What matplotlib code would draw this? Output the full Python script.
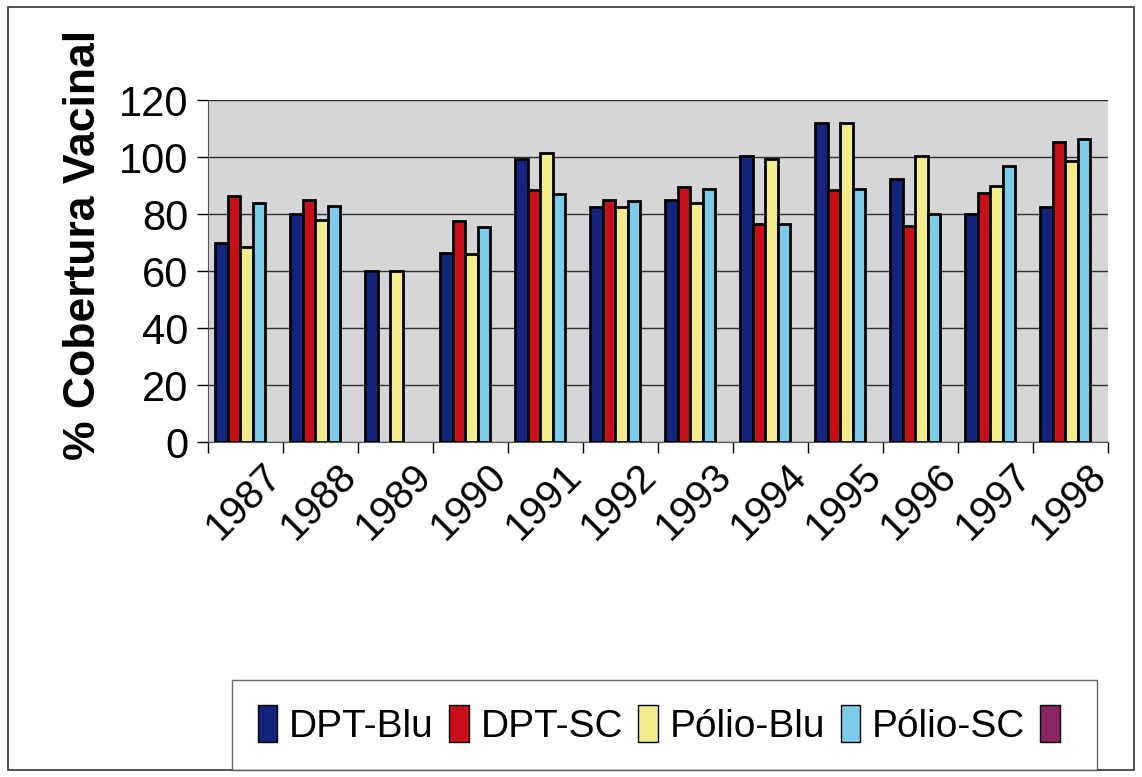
import numpy as np
import matplotlib
matplotlib.use("Agg")
import matplotlib.pyplot as plt
from matplotlib.patches import Rectangle, Patch

plt.rcParams['font.family'] = ['Liberation Sans', 'DejaVu Sans']

years = ['1987', '1988', '1989', '1990', '1991', '1992',
         '1993', '1994', '1995', '1996', '1997', '1998']
# nan = no bar shown for that year
dpt_blu = [70, 80, 60, 66.5, 99.5, 82.5, 85, 100.5, 112, 92.5, 80, 82.5]
dpt_sc = [86.5, 85, np.nan, 77.5, 88.5, 85, 89.5, 76.5, 88.5, 76, 87.5, 105.5]
polio_blu = [68.5, 78, 60, 66, 101.5, 82.5, 84, 99.5, 112, 100.5, 90, 98.5]
polio_sc = [84, 83, np.nan, 75.5, 87, 84.5, 89, 76.5, 89, 80, 97, 106.5]

series = [
    ('DPT-Blu', dpt_blu, '#14237e'),
    ('DPT-SC', dpt_sc, '#c8101a'),
    ('Pólio-Blu', polio_blu, '#f2ec8a'),
    ('Pólio-SC', polio_sc, '#7ccbe8'),
]

fig = plt.figure(figsize=(11.42, 7.77), dpi=100)
ax = fig.add_axes([0.182, 0.431, 0.788, 0.44])
ax.set_facecolor('#d6d6d8')

x = np.arange(len(years))
w = 1 / 6
for i, (name, vals, col) in enumerate(series):
    ax.bar(x - 0.5 + w * 0.6 + i * w + w / 2, vals, width=w, color=col,
           edgecolor='black', linewidth=2, zorder=3)

ax.set_xlim(-0.5, len(years) - 0.5)
ax.set_ylim(0, 120)
ax.set_yticks(range(0, 121, 20))
ax.yaxis.grid(True, color='#303030', linewidth=1, zorder=1)
ax.tick_params(axis='y', labelsize=30, length=8, width=1, pad=6)

# ticks between categories, labels under category centers
ax.set_xticks(np.arange(-0.5, len(years), 1))
ax.set_xticklabels([])
ax.tick_params(axis='x', length=8, width=1)
for xi, yr in zip(x, years):
    ax.text(xi + 0.58, -5, yr, rotation=45, ha='right', va='top',
            fontsize=29, transform=ax.transData)

for side in ['top', 'right']:
    ax.spines[side].set_visible(False)
ax.spines['left'].set_color('#555555')
ax.spines['bottom'].set_color('#555555')

fig.text(0.073, 0.685, '% Cobertura Vacinal', rotation=90, fontsize=32,
         fontweight='bold', ha='center', va='center')

handles = [Patch(facecolor=c, edgecolor='black', linewidth=1) for _, _, c in series]
handles.append(Patch(facecolor='#8b2463', edgecolor='black', linewidth=1))
labels = [s[0] for s in series] + ['']
leg = fig.legend(handles, labels, loc='center', bbox_to_anchor=(0.582, 0.067),
                 ncol=5, fontsize=28, frameon=True, fancybox=False,
                 edgecolor='#444444', handlelength=0.5, handleheight=1.1,
                 handletextpad=0.3, columnspacing=0.4, borderpad=0.65)
leg.get_frame().set_linewidth(1)

fig.patches.append(Rectangle((0.007, 0.009), 0.986, 0.982, transform=fig.transFigure,
                             fill=False, edgecolor='#333333', linewidth=1.2))

fig.savefig('out.png', dpi=100)
